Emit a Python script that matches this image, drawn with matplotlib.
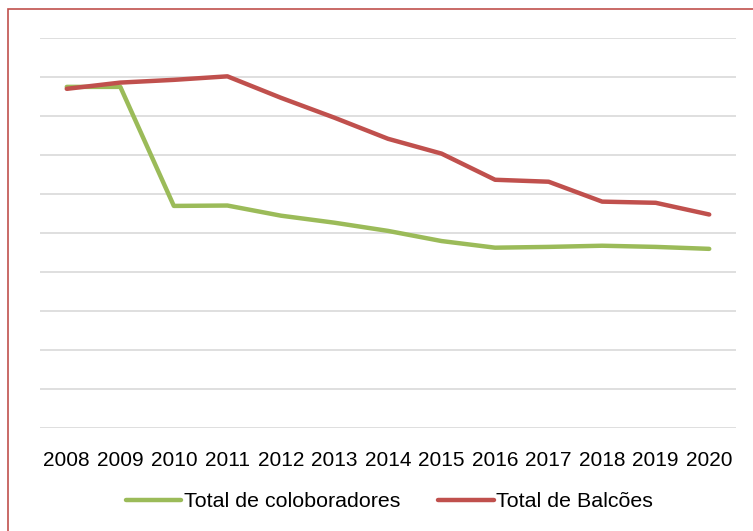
import matplotlib.pyplot as plt
from matplotlib.patches import Rectangle

plt.rcParams['font.family'] = ['Liberation Sans', 'DejaVu Sans']

anos = ['2008', '2009', '2010', '2011', '2012', '2013', '2014',
        '2015', '2016', '2017', '2018', '2019', '2020']
colaboradores = [8.74, 8.74, 5.69, 5.70, 5.44, 5.26, 5.05,
                 4.79, 4.62, 4.64, 4.67, 4.64, 4.59]
balcoes = [8.69, 8.85, 8.92, 9.01, 8.46, 7.95, 7.41,
           7.03, 6.36, 6.31, 5.80, 5.77, 5.47]

W, H = 753, 531
fig = plt.figure(figsize=(W / 100, H / 100), dpi=100)
ax = fig.add_axes([40 / W, (H - 428) / H, 696 / W, (428 - 37.7) / H])

x = range(len(anos))
ax.plot(x, colaboradores, color='#9BBB59', lw=3.2, solid_capstyle='round',
        label='Total de coloboradores', zorder=3)
ax.plot(x, balcoes, color='#C0504D', lw=3.2, solid_capstyle='round',
        label='Total de Balcões', zorder=3)

ax.set_xlim(-0.5, len(anos) - 0.5)
ax.set_ylim(0, 10)
ax.set_yticks(range(0, 11))
ax.set_yticklabels([])
ax.set_xticks(list(x))
ax.set_xticklabels(anos, fontsize=15)
ax.tick_params(axis='both', length=0)
ax.tick_params(axis='x', pad=16.5)
ax.grid(axis='y', color='#D9D9D9', lw=1.2)
for s in ax.spines.values():
    s.set_visible(False)

ax.legend(loc='center', bbox_to_anchor=(0.5 * (123 + 656) / W, (H - 501.7) / H),
          bbox_transform=fig.transFigure, ncol=2, frameon=False, fontsize=15.4,
          handlelength=2.6, handletextpad=0.1, columnspacing=1.8)

# border around the whole chart
fig.add_artist(Rectangle((8 / W, -0.05), 1.0, (H - 9) / H + 0.05,
                         transform=fig.transFigure, fill=False,
                         edgecolor='#C0504D', lw=1.2))

fig.savefig('out.png', dpi=100)
